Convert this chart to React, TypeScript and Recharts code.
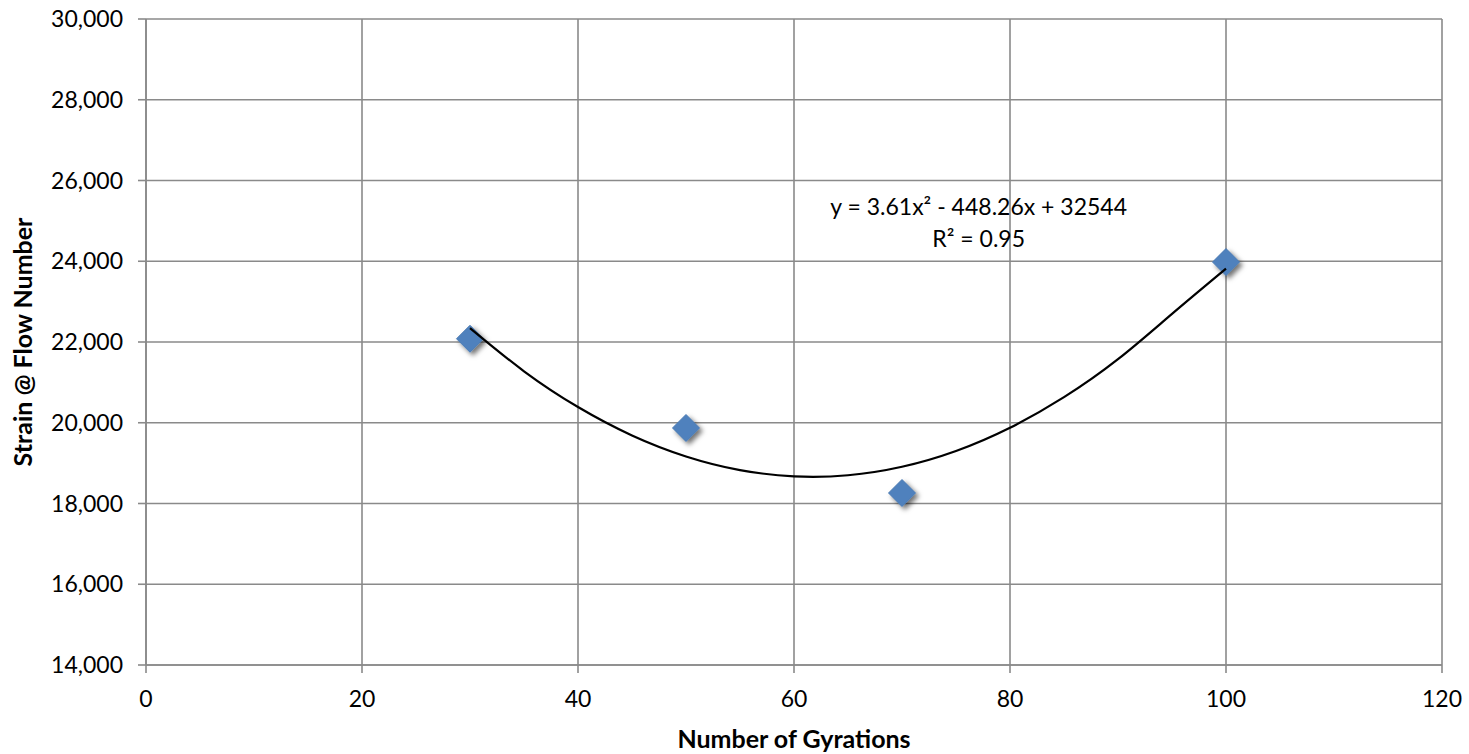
import React from 'react';
import { ScatterChart, Scatter, XAxis, YAxis, CartesianGrid, ReferenceDot } from 'recharts';

const gyrations = [30, 50, 70, 100];
const strain = [22080, 19870, 18260, 23980];

const trendX = [30, 35, 40, 45, 50, 55, 60, 65, 70, 75, 80, 85, 90, 95, 100];
const trendY = [22345, 21275, 20390, 19686, 19166, 18828, 18673, 18700, 18910, 19301, 19877, 20634, 21575, 22697, 23818];

const xTicks = [0, 20, 40, 60, 80, 100, 120];
const yTicks = [14000, 16000, 18000, 20000, 22000, 24000, 26000, 28000, 30000];

const equationLine1 = 'y = 3.61x² - 448.26x + 32544';
const equationLine2 = 'R² = 0.95';
const equationAnchor = { x: 77.1, y: 25150 };

const points = gyrations.map((g, i) => ({ x: g, y: strain[i] }));
const trend = trendX.map((g, i) => ({ x: g, y: trendY[i] }));

const FONT = 'Lato, "Open Sans", sans-serif';
const GRID = '#8a8a8a';

const Diamond = (props: any) => {
  const { cx, cy } = props;
  const h = 13.5;
  return (
    <g>
      <polygon
        points={`${cx},${cy - h} ${cx + h},${cy} ${cx},${cy + h} ${cx - h},${cy}`}
        fill="#4F81BD"
        stroke="#4a7ab3"
        strokeWidth={1}
        filter="url(#dshadow)"
      />
    </g>
  );
};

const NoShape = () => <g />;

const EquationShape = (props: any) => {
  const { cx, cy } = props;
  return (
    <g>
      <text x={cx} y={cy} textAnchor="middle" fontFamily={FONT} fontSize={23} fill="#000">
        {equationLine1}
      </text>
      <text x={cx} y={cy + 32} textAnchor="middle" fontFamily={FONT} fontSize={23} fill="#000">
        {equationLine2}
      </text>
    </g>
  );
};

export default function App() {
  return (
    <div style={{ position: 'absolute', left: 0, top: 0, background: '#fff' }}>
      <ScatterChart width={1469} height={754} margin={{ top: 19, right: 27, left: 0, bottom: 0 }}>
        <defs>
          <filter id="dshadow" x="-50%" y="-50%" width="200%" height="200%">
            <feDropShadow dx={3} dy={3} stdDeviation={2.5} floodColor="#000" floodOpacity={0.55} />
          </filter>
        </defs>
        <CartesianGrid stroke={GRID} strokeWidth={1.6} />
        <XAxis
          type="number"
          dataKey="x"
          domain={[0, 120]}
          ticks={xTicks}
          allowDataOverflow
          height={89}
          stroke={GRID}
          strokeWidth={1.6}
          tickSize={8}
          tickMargin={18}
          tick={{ fill: '#000', fontFamily: FONT, fontSize: 23 }}
          tickLine={{ stroke: GRID, strokeWidth: 1.6 }}
          label={{
            content: (p: any) => {
              const vb = p.viewBox;
              return (
                <text
                  x={vb.x + vb.width / 2}
                  y={vb.y + 83}
                  textAnchor="middle"
                  fontFamily={FONT}
                  fontWeight="bold"
                  fontSize={25}
                  fill="#000"
                >
                  Number of Gyrations
                </text>
              );
            },
          }}
        />
        <YAxis
          type="number"
          dataKey="y"
          domain={[14000, 30000]}
          ticks={yTicks}
          allowDataOverflow
          width={146}
          stroke={GRID}
          strokeWidth={1.6}
          tickSize={8}
          tickMargin={15}
          tickFormatter={(v: number) => v.toLocaleString('en-US')}
          tick={{ fill: '#000', fontFamily: FONT, fontSize: 23 }}
          tickLine={{ stroke: GRID, strokeWidth: 1.6 }}
          label={{
            content: (p: any) => {
              const vb = p.viewBox;
              const cy = vb.y + vb.height / 2;
              const cx = 32;
              return (
                <text
                  x={cx}
                  y={cy}
                  transform={`rotate(-90, ${cx}, ${cy})`}
                  textAnchor="middle"
                  fontFamily={FONT}
                  fontWeight="bold"
                  fontSize={25}
                  fill="#000"
                >
                  Strain @ Flow Number
                </text>
              );
            },
          }}
        />
        <Scatter data={points} shape={<Diamond />} isAnimationActive={false} />
        <Scatter
          data={trend}
          shape={<NoShape />}
          line={{ stroke: '#000', strokeWidth: 2.2 }}
          lineType="joint"
          lineJointType="natural"
          isAnimationActive={false}
        />
        <ReferenceDot x={equationAnchor.x} y={equationAnchor.y} r={0} shape={<EquationShape />} />
      </ScatterChart>
    </div>
  );
}
